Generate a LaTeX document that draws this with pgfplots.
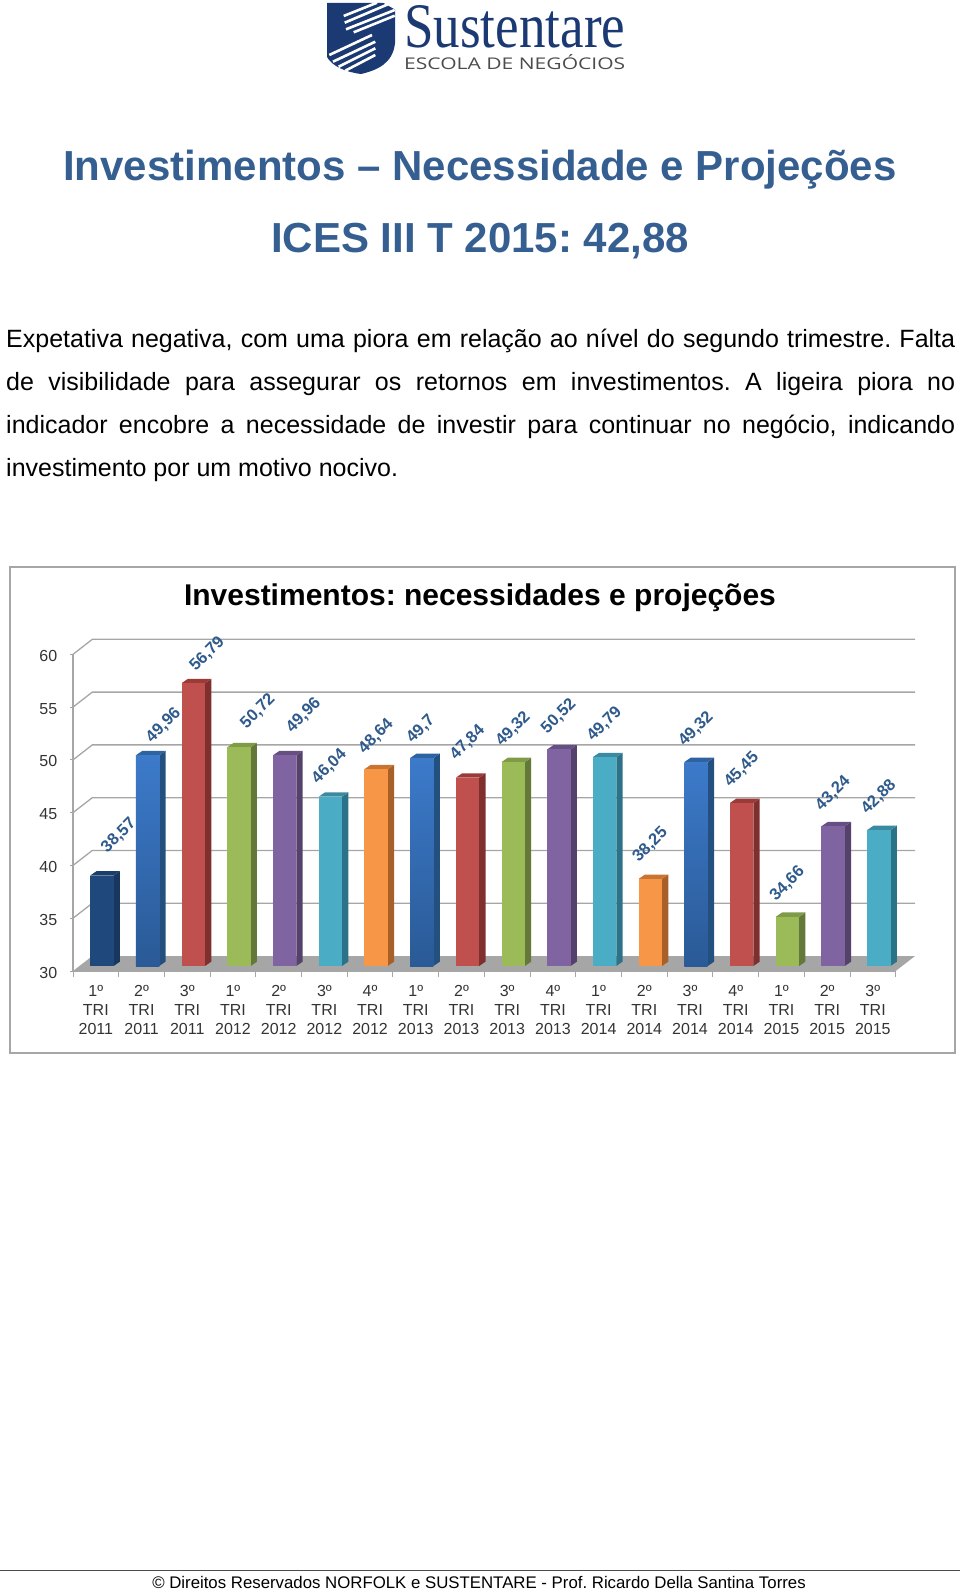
\documentclass[border=0pt]{standalone}
\usepackage{fontspec}
\setmainfont{Liberation Sans}
\newfontfamily\logoserif{Liberation Serif}
\newfontfamily\logosans{Open Sans}
\usepackage{pgfplots}
\pgfplotsset{compat=1.18}
\frenchspacing

\definecolor{headblue}{HTML}{365F91}
\definecolor{labelblue}{HTML}{2F5A8C}
\definecolor{gridgray}{HTML}{A6A6A6}
\definecolor{ticktext}{HTML}{333333}
\definecolor{logonavy}{HTML}{1B3A73}

\tikzset{
  navybar/.style={fill={rgb,255:red,31;green,73;blue,125}},
  bluebar/.style={top color={rgb,255:red,60;green,122;blue,202},bottom color={rgb,255:red,42;green,90;blue,150}},
  redbar/.style={fill={rgb,255:red,192;green,80;blue,77}},
  greenbar/.style={fill={rgb,255:red,155;green,187;blue,89}},
  purplebar/.style={fill={rgb,255:red,128;green,100;blue,162}},
  tealbar/.style={fill={rgb,255:red,75;green,172;blue,198}},
  orangebar/.style={fill={rgb,255:red,247;green,150;blue,70}},
}
% side and top faces
\definecolor{navyS}{HTML}{17375E}\definecolor{navyT}{HTML}{1A3F6C}
\definecolor{blueS}{HTML}{24507F}\definecolor{blueT}{HTML}{2F62A0}
\definecolor{redS}{HTML}{7F2F2D}\definecolor{redT}{HTML}{9C3A38}
\definecolor{greenS}{HTML}{64783A}\definecolor{greenT}{HTML}{7F9B47}
\definecolor{purpleS}{HTML}{54426B}\definecolor{purpleT}{HTML}{654F83}
\definecolor{tealS}{HTML}{2C7389}\definecolor{tealT}{HTML}{3A8BA1}
\definecolor{orangeS}{HTML}{A96028}\definecolor{orangeT}{HTML}{C97430}

% \onebar{index}{value}{colour name}{label xshift}{label yshift}
\newcommand{\onebar}[5]{%
  \pgfmathsetmacro\xl{#1+0.5-0.256}\pgfmathsetmacro\xr{#1+0.5+0.256}%
  \pgfmathsetmacro\xrb{\xr+0.138}\pgfmathsetmacro\xlb{\xl+0.138}%
  \pgfmathsetmacro\yt{#2+0.41}%
  \addplot[fill=#3S,draw=none,forget plot] coordinates {(\xr,30)(\xrb,30.41)(\xrb,\yt)(\xr,#2)} --cycle;
  \addplot[fill=#3T,draw=none,forget plot] coordinates {(\xl,#2)(\xlb,\yt)(\xrb,\yt)(\xr,#2)} --cycle;
  \addplot[ybar,bar width=23.4pt,bar shift=0pt,#3bar,draw=none,forget plot,
    nodes near coords,
    every node near coord/.append style={xshift=#4pt,yshift=#5pt,rotate=45,anchor=center,
      font=\fontsize{16.5}{18}\selectfont\bfseries,text=labelblue,inner sep=0pt,
      /pgf/number format/assume math mode=true,
      /pgf/number format/fixed,/pgf/number format/precision=2,/pgf/number format/use comma},
  ] coordinates {(#1+0.5,#2)};
}

\begin{document}
\begin{tikzpicture}
\path[use as bounding box] (0pt,0pt) rectangle (960pt,-1592pt);

\begin{scope}[x=1pt,y=-1pt]
  % logo
  \fill[logonavy] (327,3) -- (395,3) -- (395,43) .. controls (393,63) and (378,70) .. (361,74)
    .. controls (345,72) and (332,66) .. (327,57) -- cycle;
  \fill[white] (382,2) -- (396,2) -- (396,10) -- cycle;
  \foreach \xa/\ya/\xb/\yb in {343.7/16/377/2.7,344.7/22.7/390.3/3.3,346/29.3/394.7/10,353.7/32.3/394.7/15.7,
      329.3/55/372/35,333/61.7/375.3/41.7,338.7/66.7/375.3/48.3,345.3/70.7/375.3/55}
    \draw[white,line width=2.6pt] (\xa,\ya) -- (\xb,\yb);
  \node[inner sep=0pt,anchor=south west,text=logonavy] at (404,48)
    {\resizebox{221pt}{42pt}{\logoserif Sustentare}};
  \node[inner sep=0pt,anchor=south west,text=black!70] at (404,70)
    {\resizebox{221pt}{15pt}{\logosans ESCOLA DE NEGÓCIOS}};

  % headings
  \node[text=headblue,anchor=base] at (480,180) {\fontsize{42}{46}\selectfont\bfseries Investimentos – Necessidade e Projeções};
  \node[text=headblue,anchor=base] at (480,252.5) {\fontsize{42}{46}\selectfont\bfseries ICES III T 2015: 42,88};

  % body text
  \fontsize{25}{28}\selectfont
  \node[anchor=base west,inner sep=0pt] at (6,347) {\hbox to 949pt{Expetativa negativa, com uma piora em relação ao nível do segundo trimestre. Falta}};
  \node[anchor=base west,inner sep=0pt] at (6,390) {\hbox to 949pt{de visibilidade para assegurar os retornos em investimentos. A ligeira piora no}};
  \node[anchor=base west,inner sep=0pt] at (6,433) {\hbox to 949pt{indicador encobre a necessidade de investir para continuar no negócio, indicando}};
  \node[anchor=base west,inner sep=0pt] at (6,476) {investimento por um motivo nocivo.};

  % chart frame and title
  \draw[gridgray,line width=1.3pt] (10,567) rectangle (955,1053);
  \node[anchor=center] at (480,598) {\fontsize{30}{33}\selectfont\bfseries Investimentos: necessidades e projeções};

  % footer
  \draw[black!70,line width=0.8pt] (0,1570) -- (960,1570);
  \node[anchor=base] at (479,1588) {\fontsize{16.8}{20}\selectfont © Direitos Reservados NORFOLK e SUSTENTARE - Prof. Ricardo Della Santina Torres};
\end{scope}

% front plane: axis, ticks, back wall lines and floor
\begin{axis}[
  at={(73pt,-971pt)},anchor=south west,
  scale only axis,width=822.7pt,height=316.7pt,
  xmin=0,xmax=18,ymin=30,ymax=60,
  clip=false,
  axis lines*=left,
  axis line style={gridgray,line width=1.3pt,-},
  tick align=outside,
  xtick={0,...,18},
  x tick label as interval,
  xticklabels={1º\\TRI\\2011,2º\\TRI\\2011,3º\\TRI\\2011,1º\\TRI\\2012,2º\\TRI\\2012,3º\\TRI\\2012,4º\\TRI\\2012,1º\\TRI\\2013,2º\\TRI\\2013,3º\\TRI\\2013,4º\\TRI\\2013,1º\\TRI\\2014,2º\\TRI\\2014,3º\\TRI\\2014,4º\\TRI\\2014,1º\\TRI\\2015,2º\\TRI\\2015,3º\\TRI\\2015},
  xticklabel style={align=center,text=ticktext,font=\fontsize{16}{19}\selectfont,yshift=-6pt},
  ytick={30,35,...,60},
  yticklabel style={text=ticktext,font=\fontsize{16}{19}\selectfont,xshift=-8pt,yshift=-1.5pt},
  /pgf/number format/assume math mode=true,
  x tick style={gridgray,line width=1pt,/pgfplots/major tick length=6pt},
  y tick style={gridgray,line width=1pt,/pgfplots/major tick length=3pt},
]
\addplot[fill=gridgray,draw=none] coordinates {(0,30)(18,30)(18.4224,31.42)(0.4224,31.42)} --cycle;
\addplot[gridgray,line width=1.3pt] coordinates {(0,35)(0.4224,36.42)(18.4224,36.42)};
\addplot[gridgray,line width=1.3pt] coordinates {(0,40)(0.4224,41.42)(18.4224,41.42)};
\addplot[gridgray,line width=1.3pt] coordinates {(0,45)(0.4224,46.42)(18.4224,46.42)};
\addplot[gridgray,line width=1.3pt] coordinates {(0,50)(0.4224,51.42)(18.4224,51.42)};
\addplot[gridgray,line width=1.3pt] coordinates {(0,55)(0.4224,56.42)(18.4224,56.42)};
\addplot[gridgray,line width=1.3pt] coordinates {(0,60)(0.4224,61.42)(18.4224,61.42)};
\end{axis}

% bars stand on the floor: same scales, moved 6px right and 5px up
\begin{axis}[
  at={(79pt,-966pt)},anchor=south west,
  scale only axis,width=822.7pt,height=316.7pt,
  xmin=0,xmax=18,ymin=30,ymax=60,
  clip=false,axis lines=none,
]
\onebar{0}{38.57}{navy}{17}{40}
\onebar{1}{49.96}{blue}{16}{30}
\onebar{2}{56.79}{red}{14}{29}
\onebar{3}{50.72}{green}{19}{36}
\onebar{4}{49.96}{purple}{19}{40}
\onebar{5}{46.04}{teal}{-1}{30}
\onebar{6}{48.64}{orange}{0}{33}
\onebar{7}{49.7}{blue}{-1}{29}
\onebar{8}{47.84}{red}{0}{35}
\onebar{9}{49.32}{green}{0}{33}
\onebar{10}{50.52}{purple}{0}{33}
\onebar{11}{49.79}{teal}{0}{33}
\onebar{12}{38.25}{orange}{0}{34}
\onebar{13}{49.32}{blue}{0}{33}
\onebar{14}{45.45}{red}{0}{33}
\onebar{15}{34.66}{green}{0}{33}
\onebar{16}{43.24}{purple}{0}{33}
\onebar{17}{42.88}{teal}{0}{33}
\end{axis}
\end{tikzpicture}
\end{document}
